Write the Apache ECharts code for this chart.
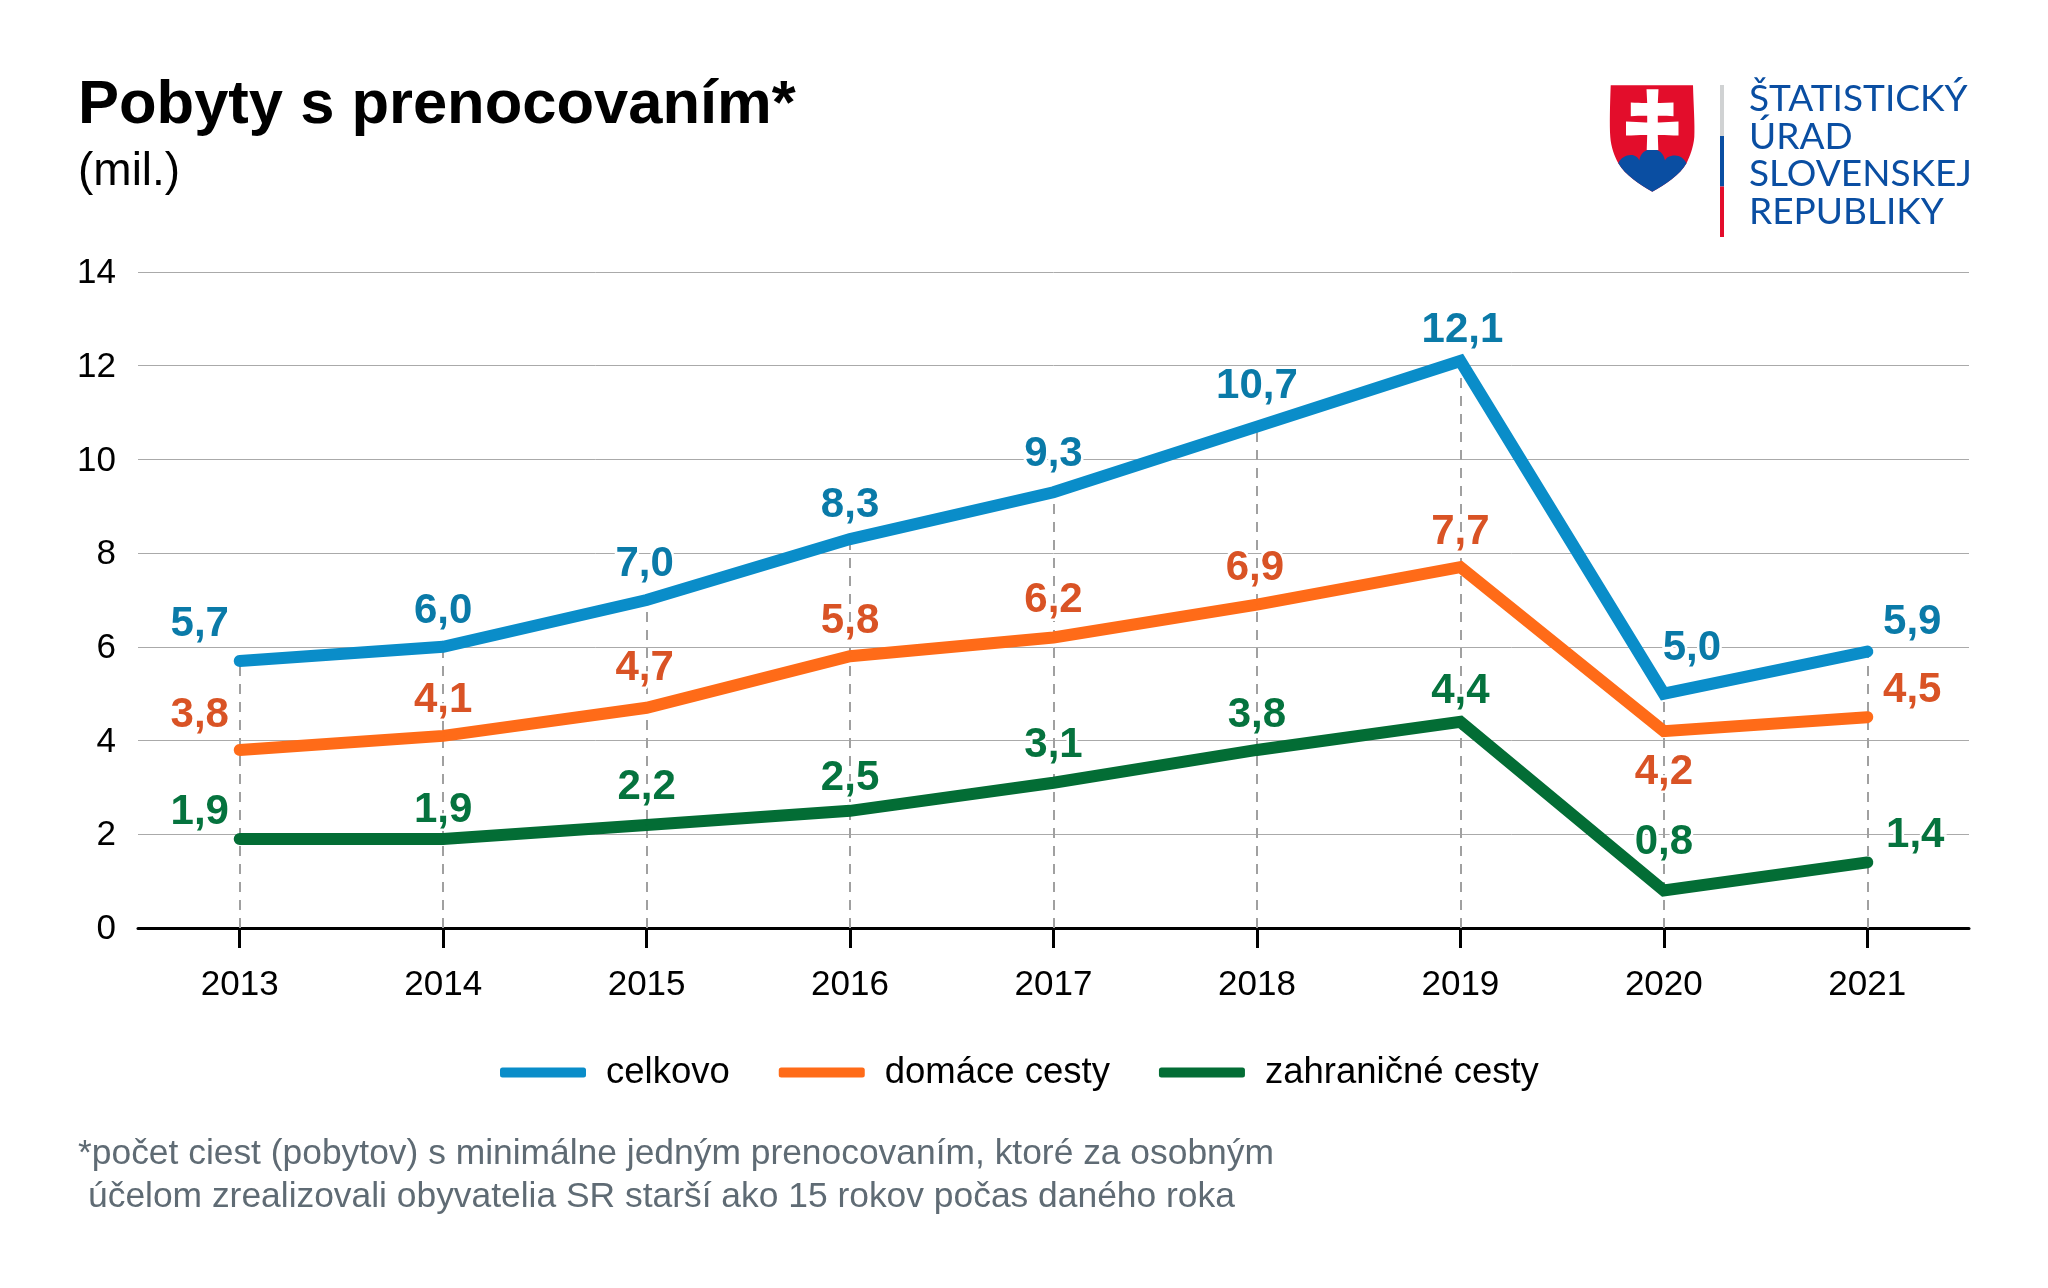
<!DOCTYPE html>
<html><head><meta charset="utf-8">
<style>html,body{margin:0;padding:0;background:#fff}#c{width:2048px;height:1288px}</style>
<script src="https://cdn.jsdelivr.net/npm/echarts@6/dist/echarts.min.js"></script>
</head><body><div id="c"></div>
<script>
const categories = ['2013','2014','2015','2016','2017','2018','2019','2020','2021'];
const celkovo = [5.7,6.0,7.0,8.3,9.3,10.7,12.1,5.0,5.9];
const domace = [3.8,4.1,4.7,5.8,6.2,6.9,7.7,4.2,4.5];
const zahranicne = [1.9,1.9,2.2,2.5,3.1,3.8,4.4,0.8,1.4];
const yTicks = {min:0,max:14,interval:2};
const seriesNames = ['celkovo','domáce cesty','zahraničné cesty'];
const lineColors = ['#0a8dc9','#ff6b18','#036d35'];
const labelColors = ['#0a7aa8','#d95325','#05733e'];
const offsetsCelkovo = [[-40,-36],[0,-35],[-2,-36],[0,-34],[0,-38],[0,-40],[2,-31],[28,-45],[45,-29]];
const offsetsDomace = [[-40,-35],[0,-35],[-2,-39],[0,-35],[0,-37],[-2,-36],[0,-35],[0,41],[45,-27]];
const offsetsZahranicne = [[-40,-27],[0,-29],[0,-37],[0,-32],[0,-37],[0,-35],[0,-30],[0,-48],[48,-27]];

const FONT = '"Liberation Sans", Arial, sans-serif';
function fmt(v){return v.toFixed(1).replace('.',',');}
function mk(i,vals,offs){
  return {
    name:seriesNames[i], type:'line', z:3+i, symbol:'circle', symbolSize:2, showSymbol:true,
    itemStyle:{color:lineColors[i]},
    lineStyle:{color:lineColors[i],width:12,cap:'round',join:'miter'},
    emphasis:{disabled:true}, animation:false, clip:false,
    data:vals.map((v,k)=>({
      value:v,
      label:{show:true,position:'inside',align:'center',verticalAlign:'middle',offset:offs[k],
        formatter:fmt(v),color:labelColors[i],fontFamily:FONT,fontWeight:'bold',fontSize:42,
        textBorderColor:'#fff',textBorderWidth:5}
    }))
  };
}
const s0 = mk(0,celkovo,offsetsCelkovo);
s0.markLine = {silent:true,z:1,symbol:'none',animation:false,label:{show:false},
  lineStyle:{color:'#a0a0a0',type:[10,8],width:2},
  data:categories.map((c,k)=>[{xAxis:c,yAxis:0},{xAxis:c,yAxis:celkovo[k]}])};

const logoBlue='#0a4ea2', logoRed='#e30d2b';
echarts.graphic.registerShape('logoShield',echarts.graphic.extendPath('M1610.7 85.3L1693 85.3C1693.5 105 1695 125 1694.3 137C1693.5 147 1690 156 1686.5 163.3C1680 175 1665 185 1652.3 191.7C1640 185 1625 175 1618.3 163.3C1614.5 156 1611 147 1610.3 137C1609.5 125 1610 105 1610.7 85.3Z'));
echarts.graphic.registerShape('logoHills',echarts.graphic.extendPath('M1618.3 163.3C1621 157 1628 154 1634 155.5C1637 156.5 1639 159 1639.3 160.5C1640 154 1645 149 1652.3 149C1659 149 1664 154 1665 160.5C1666 158 1669 155.5 1675 155.5C1680 155.5 1684 158.5 1686.5 163.3C1680 175 1665 185 1652.3 191.7C1640 185 1625 175 1618.3 163.3Z'));
echarts.graphic.registerShape('logoCross',echarts.graphic.extendPath('M1646.5 89.3L1658.5 89.3L1657.8 102.9C1663 103 1668 102.7 1673.5 102.4L1673.5 116.2C1668 115.9 1663 115.7 1657.8 115.8L1657.8 122.4C1664 122.5 1671 122 1678.5 121.6L1678.5 135.5C1671 135.1 1664 134.8 1657.8 134.9L1658.3 150L1646.7 150L1647.2 134.9C1641 134.8 1634 135.1 1626 135.5L1626 121.6C1634 122 1641 122.5 1647.2 122.4L1647.2 115.8C1642 115.7 1637 115.9 1630.8 116.2L1630.8 102.4C1637 102.7 1642 103 1647.2 102.9Z'));
function logoText(t,y){return {type:'text',x:1749,y:y,z:10,silent:true,style:{text:t,fill:logoBlue,font:'400 37px Lato'}};}
const graphic = [
 {type:'logoShield',z:10,silent:true,style:{fill:logoRed}},
 {type:'logoHills',z:11,silent:true,style:{fill:logoBlue}},
 {type:'logoCross',z:12,silent:true,style:{fill:'#fff'}},
 {type:'rect',z:10,silent:true,shape:{x:1720,y:85,width:4,height:51},style:{fill:'#d0d2d3'}},
 {type:'rect',z:10,silent:true,shape:{x:1720,y:136,width:4,height:50.5},style:{fill:logoBlue}},
 {type:'rect',z:10,silent:true,shape:{x:1720,y:186.5,width:4,height:50.5},style:{fill:logoRed}},
 logoText('ŠTATISTICKÝ',81), logoText('ÚRAD',118.5), logoText('SLOVENSKEJ',156), logoText('REPUBLIKY',194)
];
const chart = echarts.init(document.getElementById('c'),null,{renderer:'canvas'});
chart.setOption({
  animation:false, backgroundColor:'#fff',
  title:[
   {text:'Pobyty s prenocovaním*',left:78,top:75,padding:0,textStyle:{fontFamily:FONT,fontWeight:'bold',fontSize:61.5,color:'#000'}},
   {text:'(mil.)',left:78,top:149,padding:0,textStyle:{fontFamily:FONT,fontWeight:'normal',fontSize:46,color:'#000'}},
   {text:'*počet ciest (pobytov) s minimálne jedným prenocovaním, ktoré za osobným',left:78,top:1137,padding:0,textStyle:{fontFamily:FONT,fontWeight:'normal',fontSize:35.4,color:'#5f6b74'}},
   {text:'účelom zrealizovali obyvatelia SR starší ako 15 rokov počas daného roka',left:88,top:1180,padding:0,textStyle:{fontFamily:FONT,fontWeight:'normal',fontSize:35.4,color:'#5f6b74'}}
  ],
  grid:{left:138,right:79,top:272,bottom:360,containLabel:false},
  legend:{left:500,top:1054,icon:'roundRect',itemWidth:86,itemHeight:10,itemGap:49,padding:0,
    selectedMode:false,data:seriesNames,
    textStyle:{fontFamily:FONT,fontSize:36.5,color:'#000',padding:[0,0,0,15]}},
  xAxis:{type:'category',data:categories,boundaryGap:true,
    axisLine:{show:true,lineStyle:{color:'#000',width:3}},
    axisTick:{show:true,alignWithLabel:true,length:20,lineStyle:{color:'#000',width:3}},
    axisLabel:{margin:40,fontFamily:FONT,fontSize:35,color:'#000'},splitLine:{show:false}},
  yAxis:{type:'value',min:yTicks.min,max:yTicks.max,interval:yTicks.interval,
    axisLine:{show:false},axisTick:{show:false},
    axisLabel:{margin:22,fontFamily:FONT,fontSize:35,color:'#000',verticalAlign:'top',lineHeight:3},
    splitLine:{show:true,lineStyle:{color:'#aaa',width:1}}},
  series:[s0,mk(1,domace,offsetsDomace),mk(2,zahranicne,offsetsZahranicne)],
  graphic:graphic
});
</script></body></html>
